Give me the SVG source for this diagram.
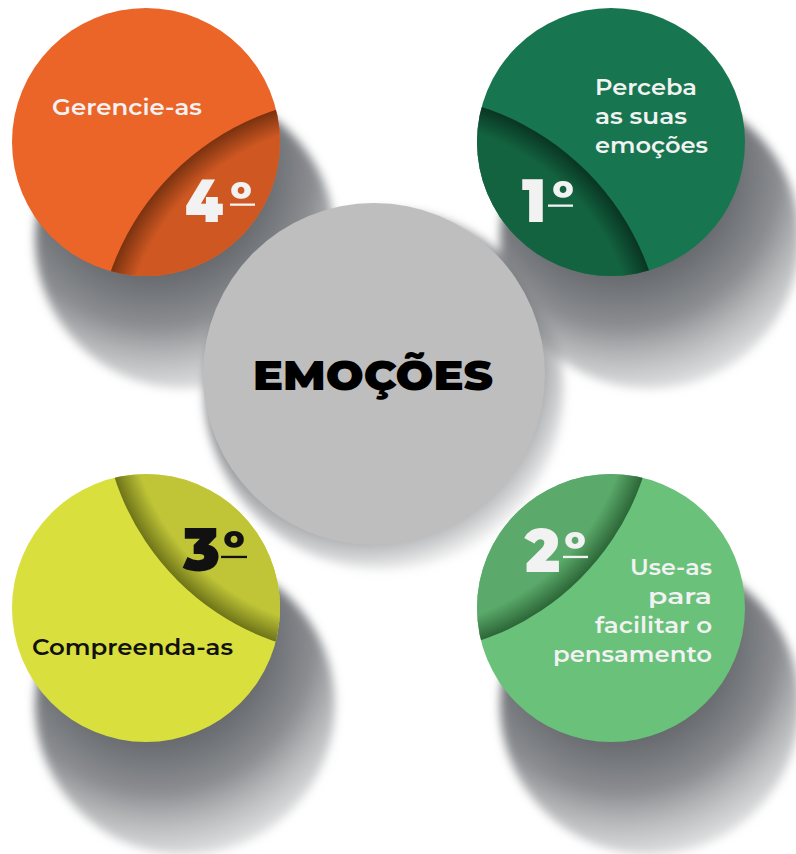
<svg xmlns="http://www.w3.org/2000/svg" width="796" height="854" viewBox="0 0 796 854">
<style>
.lbl{font-family:"Montserrat","Inter","Open Sans","Liberation Sans",sans-serif;font-weight:600;font-size:22px;fill:#f2f2f2}
.num{font-family:"Montserrat","Inter","Liberation Sans",sans-serif;font-weight:900;font-size:60px;fill:#f2f2f2}
.ord{font-family:"Montserrat","Inter","Liberation Sans",sans-serif;font-weight:800;font-size:50px;fill:#f2f2f2;text-anchor:middle}
.title{font-family:"Montserrat","Inter","Liberation Sans",sans-serif;font-weight:900;font-size:41px;fill:#000}
.ul{fill:#f2f2f2}
.dark{fill:#111}
</style>
<defs>
<filter id="blur" x="-30%" y="-30%" width="160%" height="160%"><feGaussianBlur stdDeviation="5"/></filter>
<radialGradient id="sg" cx="0.403" cy="0.26" r="0.883" fx="0.403" fy="0.26">
<stop offset="0.4" stop-color="#66696d" stop-opacity="1"/>
<stop offset="0.6" stop-color="#818387" stop-opacity="0.92"/>
<stop offset="0.8" stop-color="#a9abad" stop-opacity="0.55"/>
<stop offset="1" stop-color="#d0d0d0" stop-opacity="0"/>
</radialGradient>
<radialGradient id="sgc" cx="0.45" cy="0.42" r="0.62">
<stop offset="0.75" stop-color="#7a7c80" stop-opacity="0.8"/>
<stop offset="0.88" stop-color="#a4a6a8" stop-opacity="0.5"/>
<stop offset="1" stop-color="#d0d0d0" stop-opacity="0"/>
</radialGradient>
<radialGradient id="gOr"><stop offset="0" stop-color="#cf5822"/><stop offset="0.9" stop-color="#cf5822"/><stop offset="1" stop-color="#7a3210"/></radialGradient>
<radialGradient id="gDg"><stop offset="0" stop-color="#136340"/><stop offset="0.9" stop-color="#136340"/><stop offset="1" stop-color="#093522"/></radialGradient>
<radialGradient id="gLi"><stop offset="0" stop-color="#bfc537"/><stop offset="0.9" stop-color="#bfc537"/><stop offset="1" stop-color="#6e7318"/></radialGradient>
<radialGradient id="gLg"><stop offset="0" stop-color="#5baa6b"/><stop offset="0.9" stop-color="#5baa6b"/><stop offset="1" stop-color="#2c6637"/></radialGradient>
<clipPath id="cOr"><circle cx="146" cy="142" r="134"/></clipPath>
<clipPath id="cDg"><circle cx="611" cy="142" r="134"/></clipPath>
<clipPath id="cLi"><circle cx="146" cy="608" r="134"/></clipPath>
<clipPath id="cLg"><circle cx="611" cy="608" r="134"/></clipPath>
</defs>
<rect width="796" height="854" fill="#fff"/>
<g id="shadows" filter="url(#blur)">
<circle cx="185" cy="239" r="150" fill="url(#sg)"/>
<circle cx="650" cy="239" r="150" fill="url(#sg)"/>
<circle cx="185" cy="705" r="150" fill="url(#sg)"/>
<circle cx="650" cy="705" r="150" fill="url(#sg)"/>
<circle cx="384" cy="390" r="180" fill="url(#sgc)"/>
</g>
<g id="center">
<circle cx="374" cy="374" r="171" fill="#bebebe"/>
<text class="title" x="373" y="390" text-anchor="middle" textLength="240" lengthAdjust="spacingAndGlyphs">EMOÇÕES</text>
</g>
<g id="step4">
<circle cx="146" cy="142" r="134" fill="#eb6428"/>
<circle cx="357" cy="358" r="261" fill="url(#gOr)" clip-path="url(#cOr)"/>
<text class="lbl" x="52" y="115" textLength="150" lengthAdjust="spacingAndGlyphs">Gerencie-as</text>
<text class="num" x="185" y="222" textLength="38" lengthAdjust="spacingAndGlyphs">4</text>
<text class="ord" x="241" y="219">º</text>
<rect class="ul" x="230" y="203.5" width="25" height="2.3"/>
</g>
<g id="step1">
<circle cx="611" cy="142" r="134" fill="#177650"/>
<circle cx="400" cy="358" r="264" fill="url(#gDg)" clip-path="url(#cDg)"/>
<text class="lbl" x="595" y="95" textLength="102" lengthAdjust="spacingAndGlyphs">Perceba</text>
<text class="lbl" x="595" y="124" textLength="92" lengthAdjust="spacingAndGlyphs">as suas</text>
<text class="lbl" x="595" y="153" textLength="113" lengthAdjust="spacingAndGlyphs">emoções</text>
<text class="num" x="522" y="222" textLength="24" lengthAdjust="spacingAndGlyphs">1</text>
<text class="ord" x="563" y="218">º</text>
<rect class="ul" x="548" y="204.5" width="25" height="2.3"/>
</g>
<g id="step3">
<circle cx="146" cy="608" r="134" fill="#d9df3d"/>
<circle cx="360" cy="398" r="258" fill="url(#gLi)" clip-path="url(#cLi)"/>
<text class="lbl dark" x="32" y="655" textLength="201" lengthAdjust="spacingAndGlyphs">Compreenda-as</text>
<text class="num dark" x="183" y="571" textLength="37" lengthAdjust="spacingAndGlyphs">3</text>
<text class="ord dark" x="234" y="568">º</text>
<rect class="dark" x="221" y="555.8" width="26" height="2.3"/>
</g>
<g id="step2">
<circle cx="611" cy="608" r="134" fill="#69c17a"/>
<circle cx="398" cy="396" r="258" fill="url(#gLg)" clip-path="url(#cLg)"/>
<text class="num" x="525" y="572" textLength="35" lengthAdjust="spacingAndGlyphs">2</text>
<text class="ord" x="575" y="569">º</text>
<rect class="ul" x="563" y="555.8" width="25" height="2.3"/>
<text class="lbl" x="712" y="575" text-anchor="end" textLength="82" lengthAdjust="spacingAndGlyphs">Use-as</text>
<text class="lbl" x="712" y="604" text-anchor="end" textLength="64" lengthAdjust="spacingAndGlyphs">para</text>
<text class="lbl" x="712" y="633" text-anchor="end" textLength="117" lengthAdjust="spacingAndGlyphs">facilitar o</text>
<text class="lbl" x="712" y="662" text-anchor="end" textLength="159" lengthAdjust="spacingAndGlyphs">pensamento</text>
</g>
</svg>
